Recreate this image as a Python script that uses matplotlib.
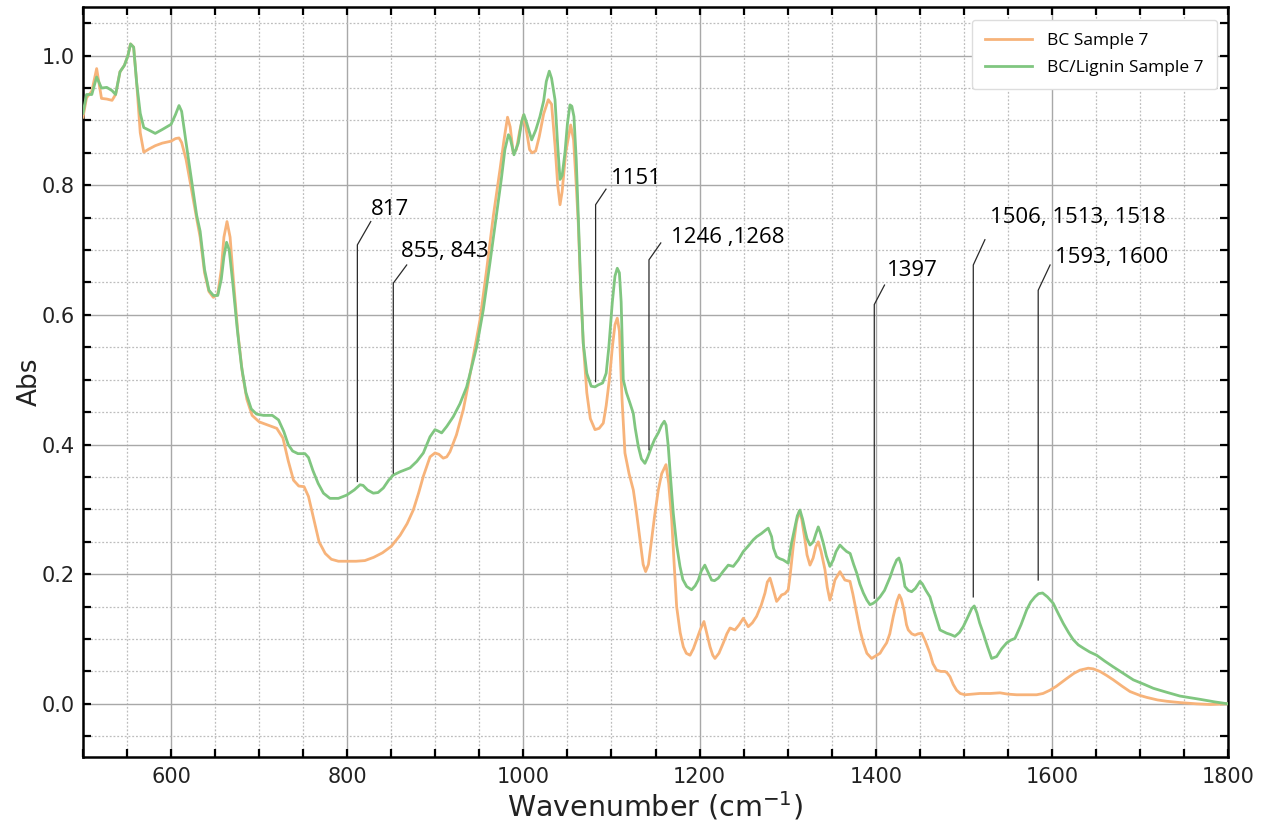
import numpy as np
import matplotlib
matplotlib.use("Agg")
import matplotlib.pyplot as plt
from matplotlib.ticker import MultipleLocator

# FTIR absorbance spectra, BC vs BC/Lignin (sample 7)
wn_bc = [500, 504, 510, 515.5, 521, 527, 533, 537, 542, 547, 551, 554, 557.5, 561, 565, 569,
         575, 582, 590, 600, 605, 609, 612, 617, 623, 629, 633, 638, 643, 648, 653, 657, 660,
         663.5, 667, 671, 676, 681, 686, 692, 700, 710, 720, 727, 733, 739, 745, 751, 756, 762,
         768, 775, 782, 790, 800, 810, 820, 830, 840, 850, 860, 868, 875, 881, 886.4, 894,
         899.6, 904, 909, 913, 916.7, 924, 931.8, 937, 943.1, 950.7, 958.3, 965.8, 973.4, 978,
         982, 985, 988.5, 992, 996, 1000, 1004, 1007, 1010, 1014, 1018, 1023, 1028.3, 1032,
         1036, 1039, 1041.6, 1044, 1048, 1053.7, 1057, 1060, 1062.3, 1065, 1068, 1072, 1076,
         1081.3, 1086, 1090.7, 1094, 1097.6, 1101, 1104, 1106.6, 1109, 1112, 1115.3, 1120,
         1124.8, 1128, 1132.4, 1136, 1138.8, 1142, 1145.6, 1149, 1153.2, 1157, 1161.9, 1165,
         1168.4, 1171, 1174, 1178, 1181.6, 1185, 1189.2, 1193, 1196.7, 1201, 1205, 1208,
         1211.9, 1215, 1217.5, 1222, 1227, 1231, 1234.6, 1240.2, 1245, 1249.7, 1255.3, 1260,
         1264.8, 1270, 1274.3, 1277, 1280, 1283, 1287.5, 1290, 1293.2, 1297, 1300.7, 1303,
         1306.4, 1310, 1313.2, 1316, 1319.7, 1322, 1325.4, 1329, 1332, 1334.8, 1338, 1342.4,
         1345, 1348, 1351, 1353.7, 1359.4, 1365, 1370.8, 1374, 1378.4, 1382, 1386, 1390,
         1395.4, 1400, 1404.9, 1408, 1412.4, 1416, 1420, 1424, 1426.8, 1429, 1432.1, 1435,
         1437, 1441, 1444.6, 1448, 1452.2, 1456, 1461.6, 1465, 1469.2, 1474, 1478.6, 1481,
         1484.3, 1488, 1491.9, 1496, 1501.3, 1510, 1518.4, 1530, 1541.1, 1550, 1560, 1570,
         1582.7, 1590, 1597.8, 1605, 1616.8, 1625, 1631.9, 1641.3, 1647, 1654.6, 1662, 1669.8,
         1680, 1688.7, 1700, 1707.6, 1720, 1730.3, 1745, 1764.4, 1780, 1800]
abs_bc = [0.905, 0.935, 0.945, 0.98, 0.934, 0.933, 0.931, 0.94, 0.975, 0.985, 1.0, 1.018, 1.013,
          0.957, 0.881, 0.851, 0.856, 0.861, 0.865, 0.868, 0.872, 0.873, 0.866, 0.84, 0.795,
          0.749, 0.72, 0.665, 0.636, 0.627, 0.632, 0.67, 0.72, 0.744, 0.72, 0.65, 0.57, 0.51,
          0.47, 0.445, 0.435, 0.43, 0.425, 0.41, 0.375, 0.345, 0.336, 0.335, 0.32, 0.285, 0.25,
          0.232, 0.223, 0.22, 0.22, 0.22, 0.221, 0.226, 0.233, 0.243, 0.26, 0.278, 0.299, 0.325,
          0.351, 0.381, 0.387, 0.385, 0.379, 0.381, 0.389, 0.415, 0.454, 0.49, 0.536, 0.592,
          0.670, 0.752, 0.824, 0.87, 0.905, 0.89, 0.85, 0.855, 0.885, 0.908, 0.88, 0.855, 0.85,
          0.853, 0.875, 0.91, 0.932, 0.925, 0.86, 0.80, 0.770, 0.79, 0.85, 0.893, 0.87, 0.80,
          0.742, 0.64, 0.556, 0.48, 0.44, 0.423, 0.425, 0.433, 0.46, 0.50, 0.55, 0.585, 0.595,
          0.575, 0.47, 0.387, 0.355, 0.330, 0.30, 0.253, 0.215, 0.204, 0.215, 0.253, 0.29, 0.330,
          0.355, 0.369, 0.34, 0.284, 0.22, 0.150, 0.11, 0.088, 0.078, 0.075, 0.085, 0.099, 0.115,
          0.127, 0.11, 0.088, 0.075, 0.070, 0.078, 0.094, 0.108, 0.117, 0.114, 0.122, 0.132,
          0.119, 0.125, 0.135, 0.152, 0.171, 0.188, 0.194, 0.18, 0.158, 0.162, 0.168, 0.17,
          0.176, 0.20, 0.243, 0.28, 0.297, 0.285, 0.253, 0.23, 0.214, 0.225, 0.242, 0.250,
          0.235, 0.207, 0.18, 0.160, 0.175, 0.191, 0.204, 0.191, 0.189, 0.17, 0.140, 0.115,
          0.094, 0.078, 0.070, 0.074, 0.078, 0.085, 0.094, 0.108, 0.135, 0.158, 0.168, 0.162,
          0.145, 0.122, 0.114, 0.108, 0.106, 0.108, 0.109, 0.098, 0.078, 0.062, 0.052, 0.050,
          0.050, 0.048, 0.042, 0.03, 0.021, 0.016, 0.014, 0.015, 0.016, 0.016, 0.017, 0.015,
          0.014, 0.014, 0.014, 0.016, 0.021, 0.027, 0.039, 0.047, 0.052, 0.055, 0.054, 0.050,
          0.044, 0.037, 0.027, 0.019, 0.013, 0.010, 0.006, 0.004, 0.002, 0.000, -0.001, 0.0]

wn_bcl = [500, 504, 510, 515.5, 521, 527, 533, 537, 542, 547, 551, 554, 557.5, 561, 565, 569,
          575, 582, 590, 600, 605, 609, 612, 617, 623, 629, 633, 638, 643, 648, 653, 657, 660,
          663, 666, 670, 675, 680, 685, 691, 697, 705, 715, 722, 728, 733, 738, 744, 752, 756,
          761, 767, 773, 780.4, 790, 799.4, 808, 814.5, 818, 823, 829.6, 835, 841, 847, 852.3,
          860, 871.3, 879, 886.4, 894, 899.6, 903, 907.2, 913, 920.4, 928, 935.6, 941, 947,
          954.5, 962, 969.7, 975, 979, 983, 985, 989.3, 994.2, 998, 1000.6, 1004, 1009.4, 1014,
          1018.8, 1023, 1026, 1029.4, 1032, 1035.9, 1039, 1041.6, 1044, 1047.2, 1050, 1052.9,
          1055, 1057.4, 1060, 1062.3, 1065, 1068, 1072, 1077, 1081.3, 1085, 1090, 1094, 1097,
          1101, 1104, 1106.6, 1109, 1111, 1113.4, 1117, 1121, 1124.8, 1127, 1130.5, 1134, 1138,
          1141, 1145.6, 1149, 1153.2, 1157, 1160, 1162, 1164.5, 1167, 1170.2, 1174, 1177.8,
          1181, 1185.4, 1191, 1195, 1198.6, 1202, 1206, 1209, 1213.7, 1217, 1221.3, 1226,
          1232.6, 1238.3, 1244, 1249.7, 1255, 1261, 1265, 1270.5, 1275, 1278, 1281.8, 1284,
          1287.5, 1291, 1295, 1300.7, 1304, 1308.4, 1311, 1314, 1317, 1319.7, 1322, 1325.4,
          1329.2, 1332, 1334.8, 1337, 1340.5, 1344, 1348, 1351.8, 1355, 1359.4, 1363, 1367,
          1371, 1375, 1378.4, 1382, 1386, 1390, 1393.5, 1397, 1400, 1404.9, 1410, 1416.2, 1420,
          1423.8, 1426.4, 1429, 1433.2, 1437, 1440.8, 1445, 1450.3, 1453, 1457, 1461.6, 1467,
          1473, 1480.5, 1485, 1490, 1495, 1499.4, 1505, 1509, 1511.9, 1515, 1518, 1522.1, 1527,
          1531.6, 1537.3, 1543, 1548.7, 1553, 1558.1, 1565, 1571.4, 1576, 1580.8, 1585, 1589.5,
          1595, 1601.6, 1607, 1613, 1619, 1624.3, 1630, 1635.7, 1643, 1650.9, 1660, 1669.8,
          1680, 1692.5, 1705, 1715.2, 1730, 1745.5, 1768.2, 1785, 1800]
abs_bcl = [0.911, 0.94, 0.94, 0.967, 0.95, 0.951, 0.946, 0.94, 0.975, 0.985, 1.0, 1.018, 1.013,
           0.957, 0.911, 0.889, 0.885, 0.88, 0.886, 0.894, 0.909, 0.923, 0.914, 0.866, 0.81,
           0.754, 0.729, 0.67, 0.638, 0.630, 0.630, 0.655, 0.69, 0.712, 0.70, 0.65, 0.58, 0.52,
           0.48, 0.455, 0.447, 0.445, 0.445, 0.438, 0.42, 0.40, 0.39, 0.386, 0.386, 0.38, 0.36,
           0.34, 0.325, 0.317, 0.317, 0.322, 0.33, 0.338, 0.337, 0.33, 0.325, 0.326, 0.333,
           0.345, 0.353, 0.358, 0.364, 0.374, 0.387, 0.412, 0.423, 0.421, 0.418, 0.428, 0.443,
           0.463, 0.489, 0.518, 0.551, 0.608, 0.68, 0.757, 0.81, 0.855, 0.878, 0.873, 0.847,
           0.865, 0.898, 0.909, 0.895, 0.870, 0.885, 0.906, 0.93, 0.96, 0.976, 0.965, 0.932,
           0.86, 0.809, 0.815, 0.850, 0.895, 0.924, 0.922, 0.906, 0.84, 0.752, 0.65, 0.556,
           0.51, 0.49, 0.489, 0.492, 0.495, 0.51, 0.55, 0.62, 0.66, 0.672, 0.665, 0.62, 0.50,
           0.48, 0.464, 0.448, 0.425, 0.397, 0.378, 0.371, 0.38, 0.397, 0.408, 0.418, 0.43,
           0.436, 0.43, 0.397, 0.35, 0.294, 0.245, 0.212, 0.192, 0.181, 0.176, 0.182, 0.191,
           0.205, 0.214, 0.205, 0.191, 0.19, 0.194, 0.203, 0.214, 0.212, 0.222, 0.235, 0.243,
           0.253, 0.258, 0.263, 0.268, 0.271, 0.258, 0.24, 0.227, 0.224, 0.222, 0.217, 0.245,
           0.273, 0.29, 0.299, 0.285, 0.268, 0.255, 0.245, 0.250, 0.262, 0.273, 0.265, 0.248,
           0.228, 0.212, 0.222, 0.235, 0.245, 0.24, 0.235, 0.232, 0.215, 0.202, 0.185, 0.171,
           0.16, 0.153, 0.155, 0.158, 0.165, 0.175, 0.195, 0.21, 0.222, 0.225, 0.215, 0.181,
           0.175, 0.173, 0.178, 0.189, 0.185, 0.175, 0.165, 0.14, 0.114, 0.109, 0.107, 0.104,
           0.11, 0.119, 0.135, 0.147, 0.151, 0.14, 0.125, 0.109, 0.088, 0.070, 0.073, 0.085,
           0.094, 0.098, 0.101, 0.122, 0.145, 0.157, 0.165, 0.17, 0.171, 0.165, 0.155, 0.14,
           0.124, 0.11, 0.099, 0.091, 0.086, 0.08, 0.075, 0.066, 0.057, 0.048, 0.037, 0.03,
           0.024, 0.018, 0.012, 0.007, 0.003, 0.0]

series_labels = ["BC Sample 7", "BC/Lignin Sample 7"]

# Band labels with leader lines
band_labels = ["817", "855, 843", "1151", "1246 ,1268", "1397", "1506, 1513, 1518", "1593, 1600"]
# (line x, line bottom, line top, elbow end x, elbow end y, text x, text y)
band_geom = [
    (811.5, 0.343, 0.708, 826.7, 0.744, 826.5, 0.762),
    (852.3, 0.356, 0.649, 867.5, 0.677, 860.7, 0.698),
    (1082.0, 0.497, 0.770, 1093.8, 0.794, 1099.5, 0.811),
    (1142.6, 0.392, 0.685, 1156.0, 0.711, 1168.0, 0.719),
    (1398.4, 0.163, 0.616, 1410.0, 0.646, 1412.8, 0.669),
    (1510.8, 0.165, 0.677, 1524.0, 0.716, 1529.7, 0.750),
    (1584.5, 0.191, 0.638, 1598.0, 0.677, 1603.5, 0.688),
]

W, H, DPI = 1267, 824, 100
fig = plt.figure(figsize=(W / DPI, H / DPI), dpi=DPI)
ax = fig.add_axes([83 / W, 1 - 757 / H, (1228 - 83) / W, (757 - 7) / H])

c_bc = (0.97, 0.70, 0.48)
c_bcl = (0.50, 0.775, 0.50)
ax.plot(wn_bc, abs_bc, color=c_bc, lw=2.0, label=series_labels[0], zorder=3)
ax.plot(wn_bcl, abs_bcl, color=c_bcl, lw=2.0, label=series_labels[1], zorder=3)

ann_font = "Open Sans"
for text, (xl, yb, yt, xe, ye, xt, yt_) in zip(band_labels, band_geom):
    ax.plot([xl, xl, xe], [yb, yt, ye], color="#2a2a2a", lw=0.9, zorder=4)
    ax.text(xt, yt_, text, fontsize=16, family=ann_font, color="black",
            ha="left", va="center", zorder=5)

ax.set_xlim(500, 1800)
ax.set_ylim(-0.082, 1.075)
ax.xaxis.set_major_locator(MultipleLocator(200))
ax.xaxis.set_minor_locator(MultipleLocator(50))
ax.yaxis.set_major_locator(MultipleLocator(0.2))
ax.yaxis.set_minor_locator(MultipleLocator(0.05))

ax.grid(which="major", color="#a8a8a8", lw=1.0, ls="-", zorder=0)
ax.grid(which="minor", color="#bdbdbd", lw=0.9, ls=(0, (1.5, 1.5)), zorder=0)

ax.tick_params(which="both", direction="in", top=True, right=True,
               length=5.5, width=1.6, color="black")
ax.tick_params(axis="both", which="major", labelsize=15, colors="black",
               labelcolor="#222222")
ax.tick_params(axis="x", which="major", pad=7)
ax.tick_params(axis="y", which="major", pad=6)
for s in ax.spines.values():
    s.set_linewidth(1.8)
    s.set_color("black")

ax.set_xlabel("Wavenumber (cm$^{-1}$)", fontsize=20.5, color="#222222", labelpad=2)
ax.set_ylabel("Abs", fontsize=19, color="#222222", labelpad=-1)

leg = ax.legend(loc="upper right", bbox_to_anchor=(1 - 11 / 1145, 1 - 13 / 750),
                borderaxespad=0, prop={"family": ann_font, "size": 12.5},
                handlelength=2.7, handletextpad=0.9, labelspacing=0.6,
                frameon=True, fancybox=True, framealpha=1.0, edgecolor="#dddddd",
                borderpad=0.75)
for line in leg.get_lines():
    line.set_linewidth(2.0)

fig.savefig("out.png", dpi=DPI)
